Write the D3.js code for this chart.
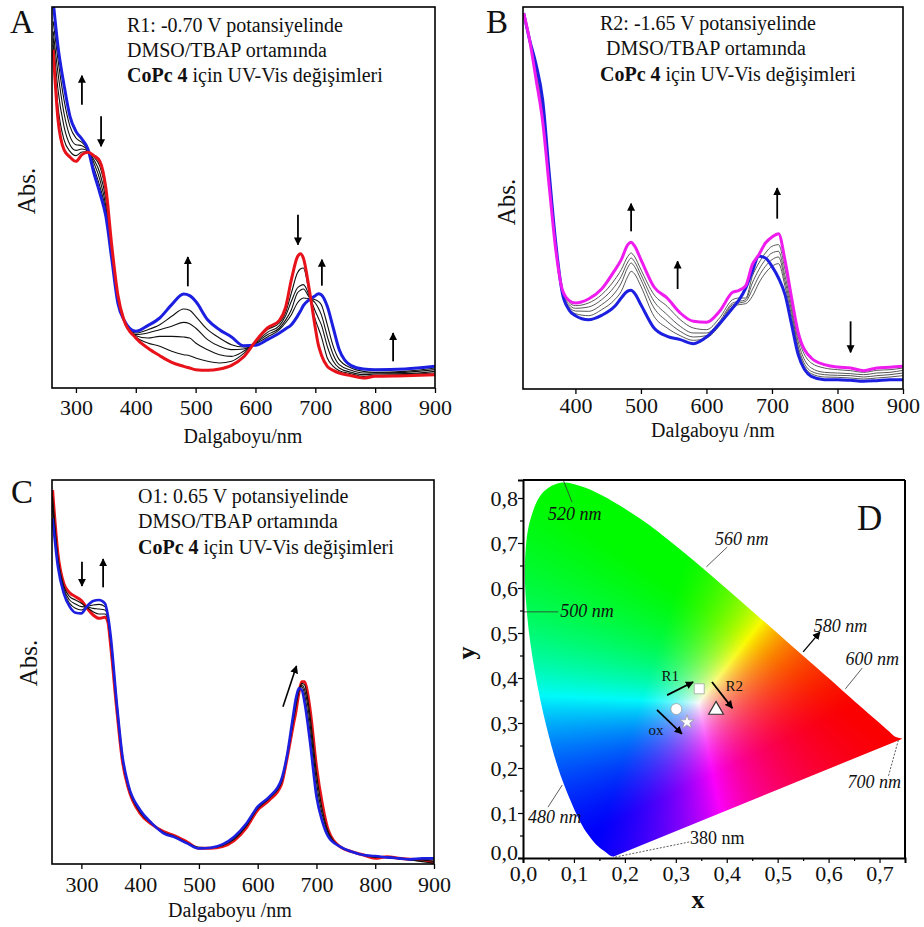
<!DOCTYPE html>
<html>
<head>
<meta charset="utf-8">
<script src="https://cdn.jsdelivr.net/npm/d3@7"></script>
<style>
body { margin: 0; background: #fff; }
svg text { font-family: "Liberation Serif", "Times New Roman", serif; fill: #111; }
</style>
</head>
<body>
<svg id="fig" width="924" height="927"></svg>
<script>
// ---- Panel A : R1 reduction (-0.70 V) ----
const wlA = [262,270,280,290,300,310,320,330,340,350,360,370,380,400,420,440,460,480,490,500,
  520,540,560,580,600,620,640,650,660,670,675,680,690,700,705,710,720,730,740,760,780,800,850,900];
const absA_red = [1.015,0.805,0.715,0.693,0.680,0.700,0.707,0.697,0.680,0.600,
  0.425,0.280,0.205,0.150,0.120,0.097,0.077,0.065,0.060,0.055,
  0.053,0.057,0.068,0.093,0.140,0.180,0.203,0.240,0.325,0.393,
  0.403,0.390,0.295,0.180,0.130,0.100,0.065,0.053,0.045,0.037,0.030,0.035,0.037,0.040];
const absA_blue = [1.16,1.025,0.910,0.815,0.770,0.747,0.717,0.645,0.585,0.515,
  0.385,0.255,0.205,0.170,0.187,0.210,0.250,0.282,0.277,0.260,
  0.205,0.175,0.153,0.127,0.128,0.145,0.165,0.177,0.190,0.215,
  0.230,0.247,0.265,0.277,0.283,0.280,0.245,0.180,0.115,0.067,0.057,0.055,0.057,0.065];
const absA_mid = [
  [1.10,0.985,0.865,0.785,0.750,0.737,0.715,0.660,0.605,0.530,
   0.390,0.260,0.205,0.165,0.175,0.190,0.215,0.237,0.233,0.215,
   0.175,0.150,0.130,0.123,0.133,0.153,0.175,0.195,0.220,0.255,
   0.265,0.270,0.268,0.265,0.260,0.250,0.190,0.125,0.085,0.060,0.050,0.047,0.050,0.060],
  [1.07,0.945,0.825,0.755,0.730,0.727,0.713,0.675,0.625,0.545,
   0.400,0.265,0.205,0.160,0.165,0.175,0.185,0.197,0.193,0.180,
   0.145,0.125,0.115,0.117,0.135,0.160,0.180,0.203,0.235,0.285,
   0.293,0.297,0.272,0.255,0.240,0.220,0.155,0.100,0.070,0.053,0.045,0.045,0.047,0.055],
  [1.05,0.895,0.785,0.730,0.713,0.717,0.711,0.685,0.645,0.565,
   0.405,0.270,0.205,0.157,0.150,0.155,0.155,0.153,0.150,0.135,
   0.115,0.100,0.095,0.110,0.137,0.167,0.187,0.215,0.260,0.300,
   0.307,0.310,0.277,0.230,0.210,0.190,0.125,0.080,0.060,0.047,0.040,0.042,0.043,0.050],
  [1.03,0.845,0.745,0.710,0.697,0.708,0.709,0.693,0.665,0.585,
   0.415,0.275,0.205,0.153,0.135,0.125,0.110,0.100,0.097,0.090,
   0.080,0.075,0.080,0.103,0.139,0.175,0.195,0.225,0.285,0.345,
   0.357,0.360,0.285,0.205,0.180,0.155,0.090,0.065,0.052,0.043,0.035,0.038,0.040,0.045]
];
// arrows: [nm, from, to]
const arrowsA = [[310,0.850,0.937],[342,0.815,0.725],[487,0.305,0.393],[671,0.520,0.430],[711,0.307,0.385],[830,0.080,0.165]];

// ---- Panel B : R2 reduction (-1.65 V) ----
const wlB = [321,330,340,350,360,370,380,390,400,420,440,460,470,480,485,490,500,
  520,540,560,580,600,620,640,650,660,670,680,690,700,710,720,730,740,760,780,800,820,840,860,880,900];
const absB_blue = [1.128,1.048,0.973,0.868,0.648,0.438,0.288,0.238,0.220,
  0.208,0.221,0.248,0.273,0.294,0.296,0.288,0.253,
  0.183,0.158,0.148,0.136,0.156,0.196,0.243,0.268,0.303,0.353,
  0.398,0.393,0.368,0.333,0.283,0.193,0.103,0.038,0.028,0.028,0.026,0.023,0.025,0.028,0.028];
const absB_magenta = [1.128,1.048,0.928,0.803,0.608,0.418,0.298,0.266,0.258,
  0.270,0.300,0.356,0.388,0.433,0.440,0.430,0.388,
  0.306,0.273,0.228,0.203,0.200,0.233,0.290,0.296,0.310,0.373,
  0.403,0.438,0.456,0.466,0.385,0.273,0.170,0.093,0.073,0.066,0.063,0.055,0.063,0.065,0.068];
const absB_mid = [
  [1.128,1.048,0.938,0.818,0.613,0.423,0.296,0.260,0.250,0.258,0.283,0.328,0.358,0.398,0.408,0.398,0.358,
   0.283,0.248,0.208,0.183,0.178,0.213,0.268,0.273,0.273,0.338,0.378,0.408,0.428,0.433,0.358,0.263,0.158,
   0.078,0.063,0.058,0.055,0.050,0.056,0.058,0.063],
  [1.128,1.048,0.948,0.833,0.623,0.428,0.294,0.254,0.242,0.246,0.268,0.308,0.338,0.381,0.393,0.383,0.343,
   0.263,0.223,0.188,0.168,0.168,0.203,0.258,0.263,0.268,0.318,0.358,0.388,0.408,0.413,0.338,0.248,0.143,
   0.063,0.050,0.048,0.046,0.043,0.048,0.050,0.056],
  [1.128,1.048,0.958,0.848,0.633,0.433,0.292,0.248,0.234,0.233,0.253,0.288,0.318,0.365,0.378,0.368,0.328,
   0.243,0.203,0.173,0.156,0.160,0.196,0.253,0.258,0.263,0.298,0.338,0.368,0.388,0.396,0.323,0.233,0.128,
   0.053,0.043,0.041,0.040,0.036,0.040,0.043,0.048],
  [1.128,1.048,0.968,0.863,0.643,0.436,0.290,0.243,0.226,0.220,0.238,0.268,0.293,0.338,0.353,0.346,0.308,
   0.218,0.183,0.160,0.146,0.153,0.190,0.248,0.253,0.256,0.278,0.318,0.348,0.368,0.376,0.308,0.218,0.118,
   0.046,0.036,0.035,0.033,0.030,0.033,0.036,0.040]
];
const arrowsB = [[485,0.473,0.556],[556,0.300,0.383],[708,0.511,0.603],[820,0.203,0.110]];

// ---- Panel C : O1 oxidation (0.65 V) ----
const wlC = [251,260,270,280,290,300,310,320,330,340,345,350,360,370,380,400,420,440,460,480,
  500,520,540,560,580,600,620,640,650,660,665,670,675,680,685,690,700,710,720,740,
  760,780,800,820,840,860,880,900];
const absC_red = [1.122,0.932,0.842,0.814,0.802,0.790,0.767,0.747,0.737,0.740,
  0.727,0.652,0.467,0.307,0.227,0.152,0.119,0.097,0.084,0.066,
  0.047,0.047,0.052,0.070,0.107,0.162,0.192,0.237,0.317,0.412,
  0.457,0.512,0.547,0.547,0.512,0.452,0.292,0.180,0.102,0.052,
  0.037,0.027,0.017,0.022,0.017,0.014,0.012,0.004];
const absC_blue = [1.037,0.892,0.812,0.772,0.754,0.752,0.774,0.789,0.792,0.782,
  0.747,0.682,0.487,0.322,0.237,0.162,0.122,0.092,0.079,0.062,
  0.047,0.049,0.059,0.082,0.120,0.172,0.202,0.252,0.327,0.442,
  0.497,0.527,0.522,0.482,0.422,0.352,0.202,0.127,0.082,0.052,
  0.037,0.027,0.024,0.020,0.017,0.014,0.017,0.017];
const absC_mid = [
  [1.102,0.922,0.834,0.802,0.792,0.782,0.769,0.757,0.750,0.750,0.734,0.662,0.472,0.312,0.230,0.155,0.120,0.095,0.082,0.064,
   0.050,0.049,0.055,0.074,0.112,0.166,0.197,0.242,0.320,0.422,0.472,0.517,0.542,0.537,0.497,0.432,0.272,0.162,0.097,0.052,
   0.037,0.027,0.020,0.020,0.016,0.012,0.007,0.002],
  [1.082,0.912,0.826,0.792,0.780,0.772,0.771,0.767,0.765,0.762,0.740,0.670,0.477,0.315,0.232,0.157,0.121,0.094,0.081,0.063,
   0.049,0.049,0.057,0.077,0.115,0.168,0.199,0.245,0.322,0.429,0.482,0.522,0.537,0.522,0.477,0.407,0.247,0.147,0.092,0.052,
   0.037,0.027,0.022,0.019,0.017,0.013,0.012,0.007],
  [1.062,0.902,0.818,0.782,0.767,0.762,0.772,0.777,0.779,0.772,0.744,0.677,0.482,0.319,0.234,0.160,0.122,0.093,0.080,0.063,
   0.048,0.049,0.058,0.080,0.117,0.170,0.200,0.248,0.324,0.435,0.490,0.526,0.532,0.507,0.452,0.382,0.222,0.132,0.087,0.052,
   0.037,0.027,0.023,0.022,0.018,0.015,0.014,0.012]
];
const arrowsC = [[301,0.907,0.834],[337,0.830,0.915]];
const slantArrowC = [[643,0.472],[666,0.594]];

// ---- Panel D : CIE 1931 chromaticity ----
const locusNm = [380,420,440,450,460,470,475,480,485,490,495,500,505,510,515,520,525,530,540,550,560,570,580,590,600,620,640,660,700];
const locusX = [0.177,0.1714,0.1644,0.1566,0.1440,0.1241,0.1096,0.0913,0.0687,0.0454,0.0235,0.0082,0.0039,0.0139,0.0389,0.0743,0.1142,0.1547,0.2296,0.3016,0.3731,0.4441,0.5125,0.5752,0.6270,0.6915,0.7190,0.7300,0.745];
const locusY = [0.003,0.0051,0.0109,0.0177,0.0297,0.0578,0.0868,0.1327,0.2007,0.2950,0.4127,0.5384,0.6548,0.7502,0.8120,0.8338,0.8262,0.8059,0.7543,0.6923,0.6245,0.5547,0.4866,0.4242,0.3725,0.3083,0.2809,0.2700,0.265];
const whitePoint = [0.345, 0.345];
const pointNames = ["R1", "neutral", "R2", "ox"];
const pointX = [0.346, 0.301, 0.379, 0.322];
const pointY = [0.376, 0.331, 0.329, 0.302];
const pointShape = ["square", "circle", "triangle", "star"];
const shiftLabels = ["R1", "R2", "ox"];
const shiftFrom = [[0.283,0.362],[0.371,0.391],[0.263,0.329]];
const shiftTo = [[0.334,0.391],[0.411,0.333],[0.312,0.276]];
const shiftLabelPos = [[0.289,0.404],[0.415,0.382],[0.261,0.284]];
// wavelength labels: text, leader start, leader end, label anchor
const nmLabels = ["520 nm","560 nm","500 nm","580 nm","600 nm","700 nm","480 nm","380 nm"];
const nmLeadFrom = [[0.079,0.840],[0.401,0.691],[0.0,0.547],[0.550,0.458],[0.666,0.422],[0.737,0.262],[0.077,0.162],[0.181,0.002]];
const nmLeadTo = [[0.096,0.791],[0.360,0.647],[0.069,0.547],[0.583,0.502],[0.633,0.376],[0.717,0.180],[0.049,0.113],[0.328,0.036]];
const nmLabelPos = [[0.049,0.751],[0.377,0.696],[0.073,0.536],[0.571,0.502],[0.633,0.429],[0.637,0.156],[0.010,0.078],[0.328,0.031]];

const svg = d3.select("#fig");
const defs = svg.append("defs");
defs.append("marker").attr("id", "head")
    .attr("viewBox", "0 0 10 10").attr("refX", 9).attr("refY", 5)
    .attr("markerWidth", 8).attr("markerHeight", 9).attr("markerUnits", "userSpaceOnUse")
    .attr("orient", "auto")
    .append("path").attr("d", "M0,0 L10,5 L0,10 Z").attr("fill", "#000");

const RED = "#e8121a", BLUE = "#1c1fe0", MAG = "#ee1cee";

function drawSpectra(p) {
    const [l, t, r, b] = p.box;
    const x = d3.scaleLinear().domain(p.xDomain).range([l, r]);
    const y = d3.scaleLinear().domain(p.yDomain).range([b, t]);
    const g = svg.append("g");

    defs.append("clipPath").attr("id", "clip" + p.name)
        .append("rect").attr("x", l).attr("y", t).attr("width", r - l).attr("height", b - t);

    const line = d3.line()
        .x((d, i) => x(p.wl[i]))
        .y(d => y(d))
        .curve(d3.curveMonotoneX);

    const plot = g.append("g").attr("clip-path", `url(#clip${p.name})`);
    p.series.forEach(s => {
        plot.append("path")
            .attr("d", line(s.values))
            .attr("fill", "none")
            .attr("stroke", s.color)
            .attr("stroke-width", s.width)
            .attr("stroke-linejoin", "round");
    });

    // x axis
    const ax = g.append("g")
        .attr("transform", `translate(0,${b})`)
        .call(d3.axisBottom(x).tickValues(p.ticks).tickSize(5).tickPadding(p.pad).tickFormat(d3.format("d")));
    ax.select(".domain").remove();
    ax.selectAll("line").attr("stroke", "#000").attr("stroke-width", 1.3);
    ax.selectAll("text").attr("font-size", 22).attr("fill", "#111")
        .attr("font-family", "Liberation Serif, serif");

    g.append("rect").attr("x", l).attr("y", t).attr("width", r - l).attr("height", b - t)
        .attr("fill", "none").attr("stroke", "#000").attr("stroke-width", 1.6);

    // change arrows
    p.arrows.forEach(a => {
        g.append("line")
            .attr("x1", x(a[0])).attr("x2", x(a[0]))
            .attr("y1", y(a[1])).attr("y2", y(a[2]))
            .attr("stroke", "#000").attr("stroke-width", 1.8)
            .attr("marker-end", "url(#head)");
    });

    g.append("text").attr("x", p.title[0]).attr("y", p.title[1])
        .attr("text-anchor", "middle").attr("font-size", 20).text(p.xLabel);
    g.append("text")
        .attr("transform", `translate(${p.absPos[0]},${p.absPos[1]}) rotate(-90)`)
        .attr("text-anchor", "middle").attr("font-size", 25).text("Abs.");
    g.append("text").attr("x", p.letter[0]).attr("y", p.letter[1])
        .attr("font-size", 33).text(p.name);

    p.note.forEach((n, i) => {
        const tx = g.append("text").attr("x", n[0]).attr("y", n[1]).attr("font-size", 20);
        if (i === 2) {
            tx.append("tspan").attr("font-weight", "bold").text("CoPc 4");
            tx.append("tspan").text(" için UV-Vis değişimleri");
        } else {
            tx.text(n[2]);
        }
    });
    return { x, y, g };
}

drawSpectra({
    name: "A", box: [52, 7, 435, 388], xDomain: [260, 900], yDomain: [0, 1.143],
    wl: wlA, ticks: [300, 400, 500, 600, 700, 800, 900], pad: 6,
    series: [
        ...absA_mid.map(v => ({ values: v, color: "#111", width: 1.1 })),
        { values: absA_blue, color: BLUE, width: 3 },
        { values: absA_red, color: RED, width: 3 }
    ],
    arrows: arrowsA,
    title: [243, 443], xLabel: "Dalgaboyu/nm", absPos: [35, 191], letter: [10, 33],
    note: [[127, 32, "R1: -0.70 V potansiyelinde"], [127, 57, "DMSO/TBAP ortamında"], [127, 82, ""]]
});

drawSpectra({
    name: "B", box: [523, 7, 903, 389], xDomain: [320, 900], yDomain: [0, 1.146],
    wl: wlB, ticks: [400, 500, 600, 700, 800, 900], pad: 3,
    series: [
        ...absB_mid.map(v => ({ values: v, color: "#444", width: 0.9 })),
        { values: absB_blue, color: BLUE, width: 3 },
        { values: absB_magenta, color: MAG, width: 3 }
    ],
    arrows: arrowsB,
    title: [713, 437], xLabel: "Dalgaboyu /nm", absPos: [515, 202], letter: [486, 33],
    note: [[600, 30, "R2: -1.65 V potansiyelinde"], [606, 55, "DMSO/TBAP ortamında"], [600, 81, ""]]
});

const pc = drawSpectra({
    name: "C", box: [52, 480, 434, 864], xDomain: [250, 900], yDomain: [0, 1.152],
    wl: wlC, ticks: [300, 400, 500, 600, 700, 800, 900], pad: 7,
    series: [
        { values: absC_red, color: RED, width: 3 },
        ...absC_mid.map(v => ({ values: v, color: "#111", width: 1.1 })),
        { values: absC_blue, color: BLUE, width: 2.6 }
    ],
    arrows: arrowsC,
    title: [230, 917], xLabel: "Dalgaboyu /nm", absPos: [37, 663], letter: [11, 503],
    note: [[138, 503, "O1: 0.65 V potansiyelinde"], [138, 528, "DMSO/TBAP ortamında"], [138, 554, ""]]
});
pc.g.append("line")
    .attr("x1", pc.x(slantArrowC[0][0])).attr("y1", pc.y(slantArrowC[0][1]))
    .attr("x2", pc.x(slantArrowC[1][0])).attr("y2", pc.y(slantArrowC[1][1]))
    .attr("stroke", "#000").attr("stroke-width", 1.6).attr("marker-end", "url(#head)");

// ---- Panel D ----
const xD = d3.scaleLinear().domain([0, 0.75]).range([523, 905]);
const yD = d3.scaleLinear().domain([0, 0.84]).range([858, 480]);
const gD = svg.append("g");

const locus = locusNm.map((n, i) => [locusX[i], locusY[i]]);
const locusPath = d3.line().x(d => xD(d[0])).y(d => yD(d[1])).curve(d3.curveCatmullRom)(locus) + "Z";
defs.append("clipPath").attr("id", "locusClip").append("path").attr("d", locusPath);

// xy -> linear sRGB, balanced so that whitePoint renders white
function linRgb(cx, cy) {
    const X = cx / cy, Y = 1, Z = (1 - cx - cy) / cy;
    return [3.2406 * X - 1.5372 * Y - 0.4986 * Z,
            -0.9689 * X + 1.8758 * Y + 0.0415 * Z,
            0.0557 * X - 0.2040 * Y + 1.0570 * Z];
}
const wRgb = linRgb(whitePoint[0], whitePoint[1]);
function xyToRgb(cx, cy) {
    let c = linRgb(cx, cy).map((v, i) => Math.max(v / wRgb[i], 0));
    const m = Math.max(...c) || 1;
    return c.map(v => 250 * Math.pow(v / m, 1.15));
}

const W = 382, H = 378;
const cv = document.createElement("canvas");
cv.width = W; cv.height = H;
const ctx = cv.getContext("2d");
const img = ctx.createImageData(W, H);
for (let j = 0; j < H; j++) {
    for (let i = 0; i < W; i++) {
        const cx = xD.invert(523 + i + 0.5), cy = Math.max(yD.invert(480 + j + 0.5), 0.002);
        const c = xyToRgb(cx, cy);
        const k = (j * W + i) * 4;
        img.data[k] = c[0]; img.data[k + 1] = c[1]; img.data[k + 2] = c[2]; img.data[k + 3] = 255;
    }
}
ctx.putImageData(img, 0, 0);
gD.append("image").attr("href", cv.toDataURL())
    .attr("x", 523).attr("y", 480).attr("width", W).attr("height", H)
    .attr("clip-path", "url(#locusClip)");

// wavelength labels and leaders
nmLabels.forEach((t, i) => {
    const ln = gD.append("line")
        .attr("x1", xD(nmLeadFrom[i][0])).attr("y1", yD(nmLeadFrom[i][1]))
        .attr("x2", xD(nmLeadTo[i][0])).attr("y2", yD(nmLeadTo[i][1]))
        .attr("stroke", "#333").attr("stroke-width", 0.8);
    if (t === "700 nm" || t === "380 nm") ln.attr("stroke-dasharray", "2,1.5");
    if (t === "580 nm") ln.attr("stroke", "#000").attr("stroke-width", 1.3).attr("marker-end", "url(#head)");
    gD.append("text").attr("x", xD(nmLabelPos[i][0])).attr("y", yD(nmLabelPos[i][1]))
        .attr("font-size", 18).attr("font-style", t === "380 nm" ? "normal" : "italic").text(t);
});

// colour coordinate points
const symType = { square: d3.symbolSquare, circle: d3.symbolCircle, triangle: d3.symbolTriangle, star: d3.symbolStar };
const symSize = { square: 100, circle: 95, triangle: 95, star: 60 };
pointNames.forEach((n, i) => {
    gD.append("path")
        .attr("d", d3.symbol(symType[pointShape[i]], symSize[pointShape[i]])())
        .attr("transform", `translate(${xD(pointX[i])},${yD(pointY[i])})`)
        .attr("fill", "#fff")
        .attr("stroke", pointShape[i] === "triangle" ? "#333" : "#999")
        .attr("stroke-width", pointShape[i] === "triangle" ? 1.2 : 0.7);
});
shiftLabels.forEach((n, i) => {
    gD.append("line")
        .attr("x1", xD(shiftFrom[i][0])).attr("y1", yD(shiftFrom[i][1]))
        .attr("x2", xD(shiftTo[i][0])).attr("y2", yD(shiftTo[i][1]))
        .attr("stroke", "#000").attr("stroke-width", 1.8).attr("marker-end", "url(#head)");
    gD.append("text").attr("x", xD(shiftLabelPos[i][0])).attr("y", yD(shiftLabelPos[i][1]))
        .attr("text-anchor", "middle").attr("dy", "0.35em").attr("font-size", 15).text(n);
});

// axes
const fmt = d => d3.format(".1f")(d).replace(".", ",");
const axB = gD.append("g").attr("transform", "translate(0,858)")
    .call(d3.axisBottom(xD).tickValues(d3.range(0, 0.71, 0.1)).tickSize(5).tickPadding(2).tickFormat(fmt));
const axL = gD.append("g").attr("transform", "translate(523,0)")
    .call(d3.axisLeft(yD).tickValues(d3.range(0, 0.81, 0.1)).tickSize(5).tickPadding(0).tickFormat(fmt));
gD.append("g").attr("transform", "translate(0,858)")
    .call(d3.axisBottom(xD).tickValues(d3.range(0.05, 0.75, 0.1)).tickSize(3).tickFormat(""))
    .select(".domain").remove();
gD.append("g").attr("transform", "translate(523,0)")
    .call(d3.axisLeft(yD).tickValues(d3.range(0.05, 0.84, 0.1)).tickSize(3).tickFormat(""))
    .select(".domain").remove();
[axB, axL].forEach(a => {
    a.select(".domain").attr("stroke", "#000").attr("stroke-width", 2);
    a.selectAll("text").attr("font-size", 22).attr("fill", "#111").attr("font-family", "Liberation Serif, serif");
});
// y-axis zero label sits a little higher so it clears the x-axis zero
axL.selectAll(".tick").filter(d => d === 0).select("text").attr("dy", "0.05em");
gD.selectAll(".tick line").attr("stroke", "#000").attr("stroke-width", 1.2);
gD.append("line").attr("x1", 523).attr("x2", 905).attr("y1", 480).attr("y2", 480).attr("stroke", "#000").attr("stroke-width", 2);
gD.append("line").attr("x1", 905).attr("x2", 905).attr("y1", 480).attr("y2", 858).attr("stroke", "#000").attr("stroke-width", 2);

gD.append("text").attr("x", 698).attr("y", 908).attr("text-anchor", "middle")
    .attr("font-size", 26).attr("font-weight", "bold").text("x");
gD.append("text").attr("transform", "translate(475,653) rotate(-90)").attr("text-anchor", "middle")
    .attr("font-size", 26).attr("font-weight", "bold").text("y");
gD.append("text").attr("x", 857).attr("y", 530).attr("font-size", 35).text("D");
</script>
</body>
</html>
